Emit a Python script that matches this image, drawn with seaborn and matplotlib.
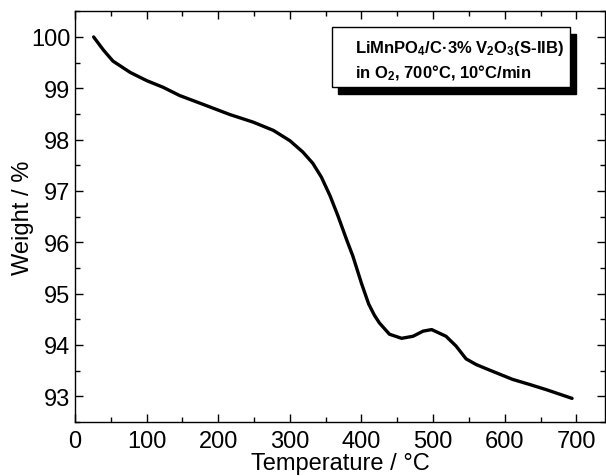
import numpy as np
import pandas as pd
import matplotlib
matplotlib.use("Agg")
import matplotlib.pyplot as plt
from matplotlib.patches import Rectangle
from matplotlib.ticker import MultipleLocator
import seaborn as sns

temperature = [26, 40, 53, 77, 100, 123, 146, 184, 216, 249, 277, 300, 318, 332,
               344, 356, 367, 379, 388, 400, 410, 418, 425, 439, 456, 472, 486,
               498, 518, 532, 546, 560, 579, 611, 635, 658, 694]
weight = [100.0, 99.74, 99.53, 99.31, 99.15, 99.02, 98.86, 98.66, 98.49, 98.34,
          98.18, 97.98, 97.76, 97.54, 97.27, 96.91, 96.52, 96.06, 95.73, 95.2,
          94.8, 94.58, 94.43, 94.21, 94.13, 94.17, 94.27, 94.30, 94.17, 93.98,
          93.73, 93.62, 93.51, 93.33, 93.23, 93.13, 92.96]
x_ticks = [0, 100, 200, 300, 400, 500, 600, 700]
y_ticks = [93, 94, 95, 96, 97, 98, 99, 100]

sns.set_style("ticks")
plt.rcParams['font.family'] = ['Liberation Sans', 'DejaVu Sans']
plt.rcParams['mathtext.fontset'] = 'custom'
plt.rcParams['mathtext.rm'] = 'Liberation Sans:bold'
plt.rcParams['mathtext.it'] = 'Liberation Sans:bold'
plt.rcParams['mathtext.bf'] = 'Liberation Sans:bold'
plt.rcParams['text.color'] = 'black'
plt.rcParams['axes.labelcolor'] = 'black'

df = pd.DataFrame({"T": temperature, "W": weight})

fig = plt.figure(figsize=(6.06, 4.77), dpi=100)
ax = fig.add_axes([75/606, 54/477, 530/606, (423-12.3)/477])
sns.lineplot(data=df, x="T", y="W", ax=ax, color="black", linewidth=2.4)
for ln in ax.lines:
    ln.set_solid_joinstyle('round')
    ln.set_solid_capstyle('round')

ax.set_xlim(0, 740)
ax.set_ylim(92.5, 100.5)
ax.set_xticks(x_ticks)
ax.set_yticks(y_ticks)
ax.xaxis.set_minor_locator(MultipleLocator(50))
ax.yaxis.set_minor_locator(MultipleLocator(0.5))
ax.tick_params(which='both', direction='in', top=True, right=True, width=1.0,
               labelsize=17, colors='black')
ax.tick_params(which='major', length=6)
ax.tick_params(which='minor', length=3.5)
ax.tick_params(axis='x', which='both', pad=6)
for s in ax.spines.values():
    s.set_linewidth(1.0)
    s.set_color('black')
ax.set_xlabel("Temperature / °C", fontsize=17, labelpad=-0.5, color='black')
ax.set_ylabel("Weight / %", fontsize=17, labelpad=-2, color='black')

# annotation box with shadow
fig.patches.append(Rectangle((338/606, (477-95)/477), 238/606, 60/477,
                             transform=fig.transFigure, facecolor='black',
                             edgecolor='black', zorder=5))
fig.patches.append(Rectangle((332/606, (477-88)/477), 238/606, 60/477,
                             transform=fig.transFigure, facecolor='white',
                             edgecolor='black', linewidth=1.0, zorder=6))
fig.text(355/606, (477-53)/477, r"LiMnPO$_4$/C·3% V$_2$O$_3$(S-IIB)",
         fontsize=12, fontweight='bold', ha='left', va='baseline', zorder=7,
         color='black')
fig.text(355/606, (477-78)/477, r"in O$_2$, 700°C, 10°C/min",
         fontsize=12, fontweight='bold', ha='left', va='baseline', zorder=7,
         color='black')

fig.savefig("out.png", dpi=100)
